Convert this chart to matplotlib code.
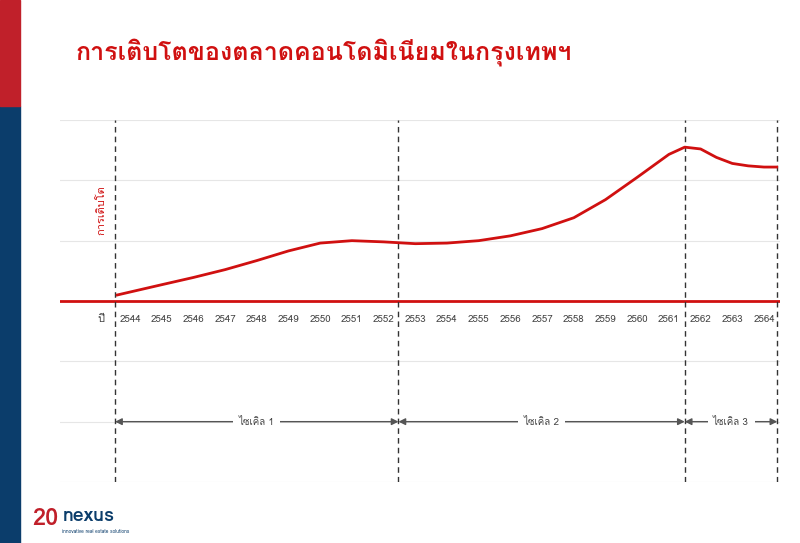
import matplotlib.pyplot as plt
from matplotlib.patches import Rectangle
import matplotlib.font_manager as fm

thai = [f.name for f in fm.fontManager.ttflist if 'Thai' in f.name or f.name in ('Loma', 'Garuda', 'Sarabun', 'Tlwg Typo')]
plt.rcParams['font.family'] = thai[:1] + ['DejaVu Sans']

years = [2543.6, 2545, 2546, 2547, 2548, 2549, 2550, 2551, 2552, 2553, 2554, 2555, 2556,
         2557, 2558, 2559, 2560, 2561, 2561.5, 2562, 2562.5, 2563, 2563.5, 2564, 2564.4]
growth = [0.1, 0.27, 0.39, 0.52, 0.67, 0.83, 0.96, 1.0, 0.98, 0.95, 0.96, 1.0, 1.08,
          1.2, 1.38, 1.68, 2.05, 2.43, 2.55, 2.52, 2.38, 2.28, 2.24, 2.22, 2.22]
tick_years = list(range(2544, 2565))
cycle_bounds = [2543.53, 2552.47, 2561.5, 2564.42]
cycle_labels = ['ไซเคิล 1', 'ไซเคิล 2', 'ไซเคิล 3']

fig = plt.figure(figsize=(8, 5.43), dpi=100)
fig.patches.append(Rectangle((0, 0), 0.025, 0.805, color='#0b3d6b', transform=fig.transFigure))
fig.patches.append(Rectangle((0, 0.805), 0.025, 0.195, color='#c0202a', transform=fig.transFigure))

ax = fig.add_axes([0.075, 1 - 482 / 543, 0.9, 362 / 543])
x0 = 2544 - (130 - 60) / 31.7
x1 = x0 + 720 / 31.7
ax.set_xlim(x0, x1)
ax.set_ylim(-3, 3)
for y in [3, 2, 1, -1, -2, -3]:
    ax.axhline(y, color='#e6e6e6', lw=0.8)
ax.axhline(0, color='#d01010', lw=2)
for x in cycle_bounds:
    ax.axvline(x, color='#333333', lw=1, ls=(0, (4, 3)))
ax.plot(years, growth, color='#d01010', lw=2)
for y in tick_years:
    ax.text(y, -0.3, str(y), ha='center', va='center', fontsize=7, color='#444444')
ax.text(2543.1, -0.3, 'ปี', ha='center', va='center', fontsize=8, color='#444444')
for i, lab in enumerate(cycle_labels):
    a, b = cycle_bounds[i], cycle_bounds[i + 1]
    ax.annotate('', xy=(a, -2), xytext=(b, -2),
                arrowprops=dict(arrowstyle='<|-|>', color='#555555', lw=1, shrinkA=0, shrinkB=0))
    ax.text((a + b) / 2, -2, lab, ha='center', va='center', fontsize=7, color='#444444',
            bbox=dict(fc='white', ec='none', pad=4))
ax.text(2543.1, 1.5, 'การเติบโต', rotation=90, ha='center', va='center', fontsize=8, color='#d01010')
ax.axis('off')

fig.text(0.095, 0.905, 'การเติบโตของตลาดคอนโดมิเนียมในกรุงเทพฯ', fontsize=18, color='#d01010',
         ha='left', va='center', weight='bold')
fig.text(0.04, 0.045, '20', fontsize=17, color='#c0202a', weight='bold', ha='left', va='center')
fig.text(0.078, 0.05, 'nexus', fontsize=14, color='#0b3d6b', weight='bold', ha='left', va='center')
fig.text(0.078, 0.022, 'innovative real estate solutions', fontsize=3.5, color='#0b3d6b', ha='left', va='center')

fig.savefig('out.png', dpi=100)
